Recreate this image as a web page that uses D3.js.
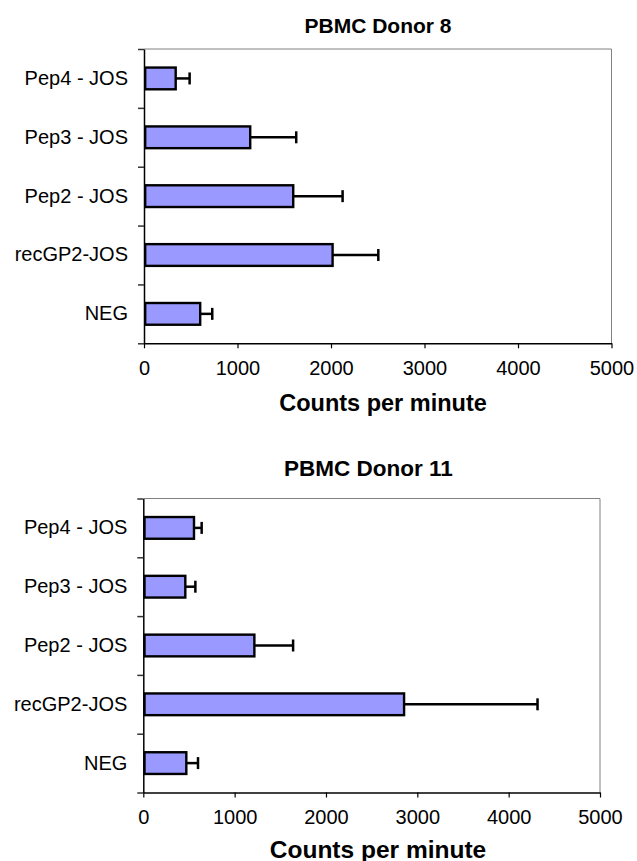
<!DOCTYPE html>
<html>
<head>
<meta charset="utf-8">
<script src="https://cdn.jsdelivr.net/npm/d3@7"></script>
<style>
  html, body { margin: 0; padding: 0; background: #fff; }
  svg { display: block; font-family: "Liberation Sans", Arial, sans-serif; }
</style>
</head>
<body>
<svg id="chart" width="637" height="861"></svg>
<script>
// ---- data ----
const categories = ["Pep4 - JOS", "Pep3 - JOS", "Pep2 - JOS", "recGP2-JOS", "NEG"];
const donor8Values  = [339, 1136, 1596, 2017, 601];
const donor8Errors  = [149, 492, 528, 489, 129];
const donor11Values = [555, 460, 1216, 2855, 471];
const donor11Errors = [84, 110, 424, 1461, 128];
const xTicks = [0, 1000, 2000, 3000, 4000, 5000];
const titles = ["PBMC Donor 8", "PBMC Donor 11"];
const xAxisTitle = "Counts per minute";

// ---- layout ----
const panels = [
  { title: titles[0], values: donor8Values, errors: donor8Errors,
    left: 144, right: 611.5, top: 49, bottom: 343.3,
    titleX: 378, titleY: 32.7, titleSize: 21,
    axisTitleX: 383, axisTitleY: 411, axisTitleSize: 23.5 },
  { title: titles[1], values: donor11Values, errors: donor11Errors,
    left: 143.3, right: 600, top: 498.5, bottom: 792.5,
    titleX: 368.5, titleY: 476, titleSize: 22.5,
    axisTitleX: 378, axisTitleY: 858, axisTitleSize: 24.5 }
];

const svg = d3.select("#chart");

panels.forEach(p => {
  const g = svg.append("g");
  const x = d3.scaleLinear().domain([0, 5000]).range([p.left, p.right]);
  const y = d3.scaleBand().domain(categories).range([p.top, p.bottom])
              .paddingInner(0.59).paddingOuter(0.295);
  const yIdx = d3.scaleLinear().domain([0, categories.length]).range([p.top, p.bottom]);

  // frame top & right (grey)
  g.append("line").attr("x1", p.left).attr("x2", p.right).attr("y1", p.top).attr("y2", p.top)
    .attr("stroke", "#808080").attr("stroke-width", 1);
  g.append("line").attr("x1", p.right).attr("x2", p.right).attr("y1", p.top).attr("y2", p.bottom)
    .attr("stroke", "#808080").attr("stroke-width", 1);

  const rows = categories.map((c, i) => ({ c, v: p.values[i], e: p.errors[i] }));
  const bh = y.bandwidth();

  // error bars
  g.selectAll(".err").data(rows).enter().append("line")
    .attr("x1", d => x(d.v)).attr("x2", d => x(d.v + d.e))
    .attr("y1", d => y(d.c) + bh / 2).attr("y2", d => y(d.c) + bh / 2)
    .attr("stroke", "#000").attr("stroke-width", 2.5);
  g.selectAll(".cap").data(rows).enter().append("line")
    .attr("x1", d => x(d.v + d.e)).attr("x2", d => x(d.v + d.e))
    .attr("y1", d => y(d.c) + bh / 2 - 6).attr("y2", d => y(d.c) + bh / 2 + 6)
    .attr("stroke", "#000").attr("stroke-width", 2.5);

  // bars
  g.selectAll(".bar").data(rows).enter().append("rect")
    .attr("x", x(0) + 1.2).attr("y", d => y(d.c) + 1.2)
    .attr("width", d => x(d.v) - x(0) - 1.2).attr("height", bh - 2.4)
    .attr("fill", "#9999FF").attr("stroke", "#000").attr("stroke-width", 2.4);

  // y axis: category labels
  const yAxis = g.append("g").attr("transform", `translate(${p.left},0)`)
    .call(d3.axisLeft(y).tickSize(0).tickPadding(16));
  yAxis.select(".domain").remove();
  yAxis.selectAll("text").attr("font-size", 20).attr("fill", "#000")
    .attr("font-family", "Liberation Sans, Arial, sans-serif");

  // y axis: boundary ticks + line
  const yTickAxis = g.append("g").attr("transform", `translate(${p.left},0)`)
    .call(d3.axisLeft(yIdx).ticks(categories.length).tickFormat("").tickSize(6).tickSizeOuter(0));
  yTickAxis.select(".domain").attr("stroke", "#000").attr("stroke-width", 1.5);
  yTickAxis.selectAll(".tick line").attr("stroke", "#333").attr("stroke-width", 1.5);

  // x axis
  const xAxis = g.append("g").attr("transform", `translate(0,${p.bottom})`)
    .call(d3.axisBottom(x).tickValues(xTicks).tickFormat(d3.format("d"))
      .tickSize(5).tickSizeOuter(0).tickPadding(12.5));
  xAxis.select(".domain").attr("stroke", "#000").attr("stroke-width", 1.5);
  xAxis.selectAll(".tick line").attr("stroke", "#000").attr("stroke-width", 1.2);
  xAxis.selectAll("text").attr("font-size", 20).attr("fill", "#000")
    .attr("font-family", "Liberation Sans, Arial, sans-serif");

  // titles
  g.append("text").attr("x", p.titleX).attr("y", p.titleY).attr("text-anchor", "middle")
    .attr("font-size", p.titleSize).attr("font-weight", "bold").text(p.title);
  g.append("text").attr("x", p.axisTitleX).attr("y", p.axisTitleY).attr("text-anchor", "middle")
    .attr("font-size", p.axisTitleSize).attr("font-weight", "bold").text(xAxisTitle);
});
</script>
</body>
</html>
